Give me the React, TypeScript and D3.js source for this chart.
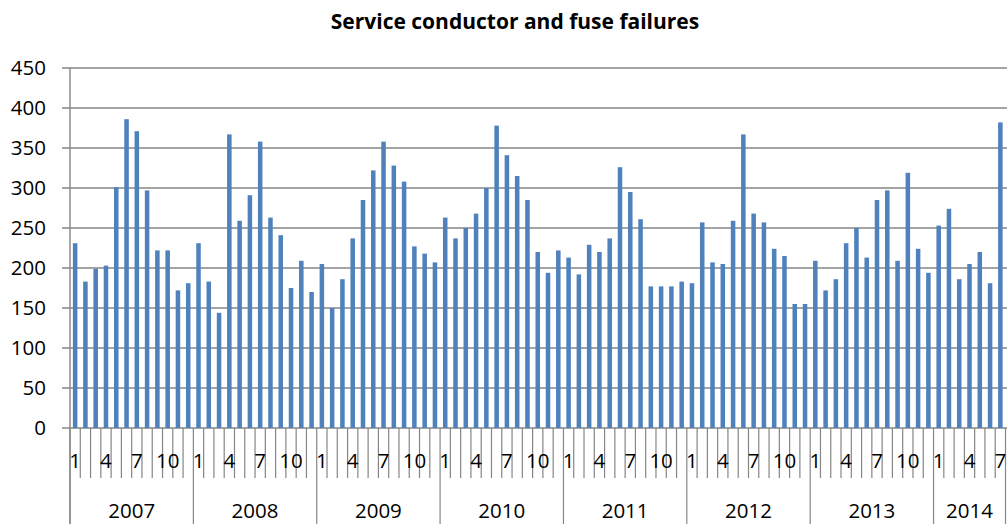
import React from 'react';
import * as d3 from 'd3';

const years = ['2007', '2008', '2009', '2010', '2011', '2012', '2013', '2014'];
const values2007 = [231, 183, 199, 203, 301, 386, 371, 297, 222, 222, 172, 181];
const values2008 = [231, 183, 144, 367, 259, 291, 358, 263, 241, 175, 209, 170];
const values2009 = [205, 150, 186, 237, 285, 322, 358, 328, 308, 227, 218, 207];
const values2010 = [263, 237, 250, 268, 300, 378, 341, 315, 285, 220, 194, 222];
const values2011 = [213, 192, 229, 220, 237, 326, 295, 261, 177, 177, 177, 183];
const values2012 = [181, 257, 207, 205, 259, 367, 268, 257, 224, 215, 155, 155];
const values2013 = [209, 172, 186, 231, 250, 213, 285, 297, 209, 319, 224, 194];
const values2014 = [253, 274, 186, 205, 220, 181, 382];
const yTicks = [0, 50, 100, 150, 200, 250, 300, 350, 400, 450];
const shownMonths = [1, 4, 7, 10];
const title = 'Service conductor and fuse failures';

const byYear = [values2007, values2008, values2009, values2010, values2011, values2012, values2013, values2014];
const data = byYear.flatMap((vals, yi) => vals.map((v, mi) => ({ year: years[yi], month: mi + 1, value: v })));

export default function App() {
  const W = 1007, H = 524;
  const left = 70, right = 1005.5, top = 68, bottom = 428;
  const x = d3.scaleBand<number>().domain(d3.range(data.length)).range([left, right]).padding(0);
  const y = d3.scaleLinear().domain([0, 450]).range([bottom, top]);
  const step = x.step();
  const barW = step * 0.44;
  const font = "'Open Sans', 'DejaVu Sans', sans-serif";
  const grid = '#868686';

  let start = 0;
  const spans = byYear.map((vals, i) => {
    const s = { year: years[i], from: start, to: start + vals.length };
    start += vals.length;
    return s;
  });

  return (
    <svg width={W} height={H} style={{ position: 'absolute', left: 0, top: 0, background: '#fff' }}>
      <rect x={0} y={0} width={W} height={H} fill="#fff" />
      <text x={515} y={29} textAnchor="middle" fontFamily={font} fontWeight="bold" fontSize={21} fill="#000">{title}</text>
      {yTicks.map(t => (
        <g key={t}>
          <line x1={62} x2={W} y1={y(t)} y2={y(t)} stroke={grid} strokeWidth={1.4} />
          <text x={46} y={y(t)} dy="0.36em" textAnchor="end" fontFamily={font} fontSize={20.5} fill="#000">{t}</text>
        </g>
      ))}
      <line x1={left} x2={left} y1={top} y2={H} stroke={grid} strokeWidth={1.4} />
      {d3.range(data.length + 1).map(i => {
        const xx = left + i * step;
        const isYear = i % 12 === 0 || i === data.length;
        return <line key={'t' + i} x1={xx} x2={xx} y1={bottom} y2={isYear ? H : 478} stroke={grid} strokeWidth={1.2} />;
      })}
      {data.map((d, i) => (
        <rect key={'b' + i} x={(x(i) as number) + (step - barW) / 2} y={y(d.value)} width={barW} height={bottom - y(d.value)} fill="#4F81BD" />
      ))}
      {data.map((d, i) => shownMonths.includes(d.month) ? (
        <text key={'m' + i} x={(x(i) as number) + step / 2} y={468} textAnchor="middle" fontFamily={font} fontSize={20.5} fill="#000">{d.month}</text>
      ) : null)}
      {spans.map(s => (
        <text key={s.year} x={left + ((s.from + s.to) / 2) * step} y={518} textAnchor="middle" fontFamily={font} fontSize={20.5} fill="#000">{s.year}</text>
      ))}
    </svg>
  );
}
